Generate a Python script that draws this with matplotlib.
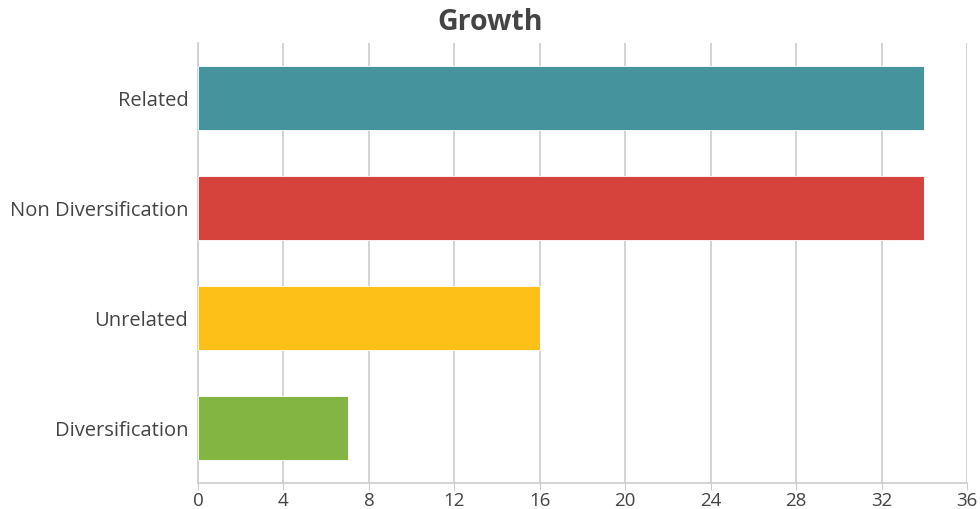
import matplotlib
matplotlib.use("Agg")
import matplotlib.pyplot as plt

categories = ["Related", "Non Diversification", "Unrelated", "Diversification"]
values = [34, 34, 16, 7]
colors = ["#45939C", "#D5433C", "#FCC018", "#82B541"]
xticks = [0, 4, 8, 12, 16, 20, 24, 28, 32, 36]
title = "Growth"

plt.rcParams['font.family'] = ['Open Sans', 'DejaVu Sans']

fig = plt.figure(figsize=(9.8, 5.1), dpi=100)
ax = fig.add_axes([198/980, 1 - 484/510, (967-198)/980, (484-44)/510])

ypos = list(range(len(categories)))
ax.barh(ypos, values, height=0.58, color=colors, edgecolor="white", linewidth=0.6, zorder=3)
ax.set_ylim(len(categories) - 0.5, -0.5)
ax.set_xlim(0, 36)
ax.set_xticks(xticks)
ax.set_xticklabels([str(t) for t in xticks], fontsize=13.5, color="#444444")
ax.set_yticks(ypos)
ax.set_yticklabels(categories, fontsize=14.5, color="#444444")
ax.grid(axis="x", color="#cccccc", linewidth=1.2, zorder=0)
ax.tick_params(axis="y", length=0, pad=7)
ax.tick_params(axis="x", length=5, color="#cccccc", pad=1)
for s in ["top", "right"]:
    ax.spines[s].set_visible(False)
ax.spines["left"].set_color("#cccccc")
ax.spines["left"].set_linewidth(1.2)
ax.spines["bottom"].set_color("#cccccc")
ax.spines["bottom"].set_linewidth(1.2)

fig.text(0.5, 1 - 22/510, title, ha="center", va="center",
         fontsize=20.5, fontweight="bold", color="#444444")

fig.savefig("out.png", dpi=100)
